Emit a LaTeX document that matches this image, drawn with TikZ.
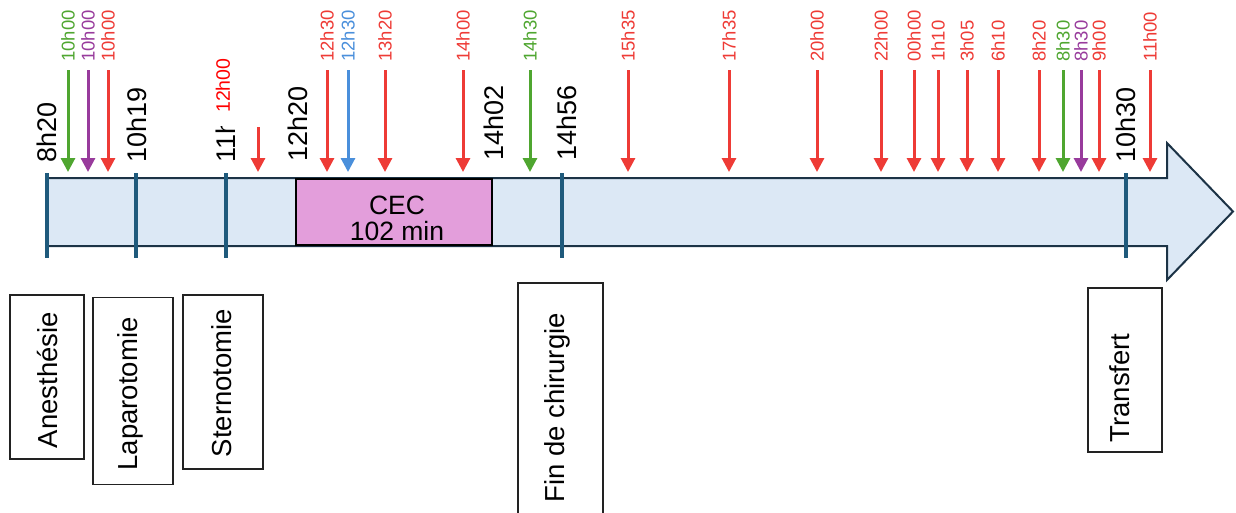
\documentclass[tikz,border=0pt]{standalone}
\usepackage{fontspec}
\setmainfont{Liberation Sans}
\usetikzlibrary{arrows.meta}
\definecolor{evred}{HTML}{EE3B36}
\definecolor{evgreen}{HTML}{4FA630}
\definecolor{evpurple}{HTML}{983B9C}
\definecolor{evblue}{HTML}{4A8FDB}
\definecolor{purered}{HTML}{FF0000}
\definecolor{tickblue}{HTML}{1F5A7C}
\definecolor{barfill}{HTML}{DCE8F5}
\definecolor{barline}{HTML}{1C3346}
\definecolor{cecpink}{HTML}{E39EDB}
\definecolor{boxgray}{HTML}{222222}
\tikzset{
  evarrow/.style={line width=3pt, -{Triangle[width=14pt,length=14pt]}},
  evlabel/.style={rotate=90, anchor=west, inner sep=0pt, font=\fontsize{18.5}{18.5}\selectfont},
  timelabel/.style={rotate=90, anchor=west, inner sep=0pt, font=\fontsize{27}{27}\selectfont},
  tickline/.style={line width=3.5pt, draw=tickblue},
  stagebox/.style={draw=boxgray, line width=1.3pt, fill=white, inner sep=0pt},
  stagetext/.style={rotate=90, inner sep=0pt, font=\fontsize{27.5}{27.5}\selectfont},
}
\newcommand\evt[4]{%
  \node[evlabel, text=#3] (l#1) at (#2,62) {#4};
  \coordinate (s#1) at (#2,70);
  \coordinate (e#1) at (#2,172);
  \draw[evarrow, draw=#3] (s#1) -- (e#1);
}
\newcommand\tmark[2]{%
  \coordinate (ta#1) at (#2,173);
  \coordinate (tb#1) at (#2,258);
  \draw[tickline] (ta#1) -- (tb#1);
}
\begin{document}
\begin{tikzpicture}[x=1pt,y=-1pt]
\useasboundingbox (0,0) rectangle (1236,512);
% timeline arrow
\draw[fill=barfill, draw=barline, line width=2pt, line join=miter]
  (47,178) -- (1167,178) -- (1167,143) -- (1233,211.5) -- (1167,280) -- (1167,246) -- (47,246) -- cycle;
% CEC
\node[draw=black, line width=1.3pt, fill=cecpink, minimum width=196pt, minimum height=66pt, inner sep=0pt] (cec) at (394,212) {};
\node[align=center, inner sep=0pt, font=\fontsize{26.5}{26}\selectfont] (cectxt) at (397,218) {CEC\\102 min};
% ticks
\tmark{1}{47}
\tmark{2}{136}
\tmark{3}{226}
\tmark{4}{562}
\tmark{5}{1126}
% time labels
\node[timelabel] (t1) at (47,163) {8h20};
\node[timelabel] (t2) at (137,163) {10h19};
\begin{scope}
\clip (200,126) rectangle (252,175);
\node[timelabel] (t3) at (226,163) {11h};
\end{scope}
\node[timelabel] (t4) at (298,162) {12h20};
\node[timelabel] (t5) at (494,161) {14h02};
\node[timelabel] (t6) at (567,161) {14h56};
\node[timelabel] (t7) at (1126,163) {10h30};
% events
\evt{1}{68}{evgreen}{10h00}
\evt{2}{88}{evpurple}{10h00}
\evt{3}{108}{evred}{10h00}
\evt{4}{327}{evred}{12h30}
\evt{5}{348}{evblue}{12h30}
\evt{6}{385}{evred}{13h20}
\evt{7}{463}{evred}{14h00}
\evt{8}{530}{evgreen}{14h30}
\evt{9}{628}{evred}{15h35}
\evt{10}{729}{evred}{17h35}
\evt{11}{817}{evred}{20h00}
\evt{12}{881}{evred}{22h00}
\evt{13}{914}{evred}{00h00}
\evt{14}{938}{evred}{1h10}
\evt{15}{967}{evred}{3h05}
\evt{16}{998}{evred}{6h10}
\evt{17}{1039}{evred}{8h20}
\evt{18}{1063}{evgreen}{8h30}
\evt{19}{1081}{evpurple}{8h30}
\evt{20}{1099}{evred}{9h00}
\evt{21}{1150}{evred}{11h00}
% 12h00 short arrow
\node[evlabel, text=purered, font=\fontsize{19.5}{19.5}\selectfont] (l22) at (223,113) {12h00};
\coordinate (s22) at (258,127);
\coordinate (e22) at (258,172);
\draw[evarrow, draw=evred] (s22) -- (e22);
% stage boxes
\node[stagebox, minimum width=74pt, minimum height=164pt] (b1) at (47,377) {};
\node[stagetext] (x1) at (48,380) {Anesthésie};
\node[stagebox, minimum width=80pt, minimum height=187pt] (b2) at (133,391) {};
\node[stagetext] (x2) at (130,394) {Laparotomie};
\node[stagebox, minimum width=80pt, minimum height=174pt] (b3) at (223,382) {};
\node[stagetext] (x3) at (222,383) {Sternotomie};
\node[stagebox, minimum width=85pt, minimum height=250pt] (b4) at (560.5,408) {};
\node[stagetext] (x4) at (557,408) {Fin de chirurgie};
\node[stagebox, minimum width=74pt, minimum height=164pt] (b5) at (1125,370) {};
\node[stagetext] (x5) at (1120,388) {Transfert};
\end{tikzpicture}
\end{document}
